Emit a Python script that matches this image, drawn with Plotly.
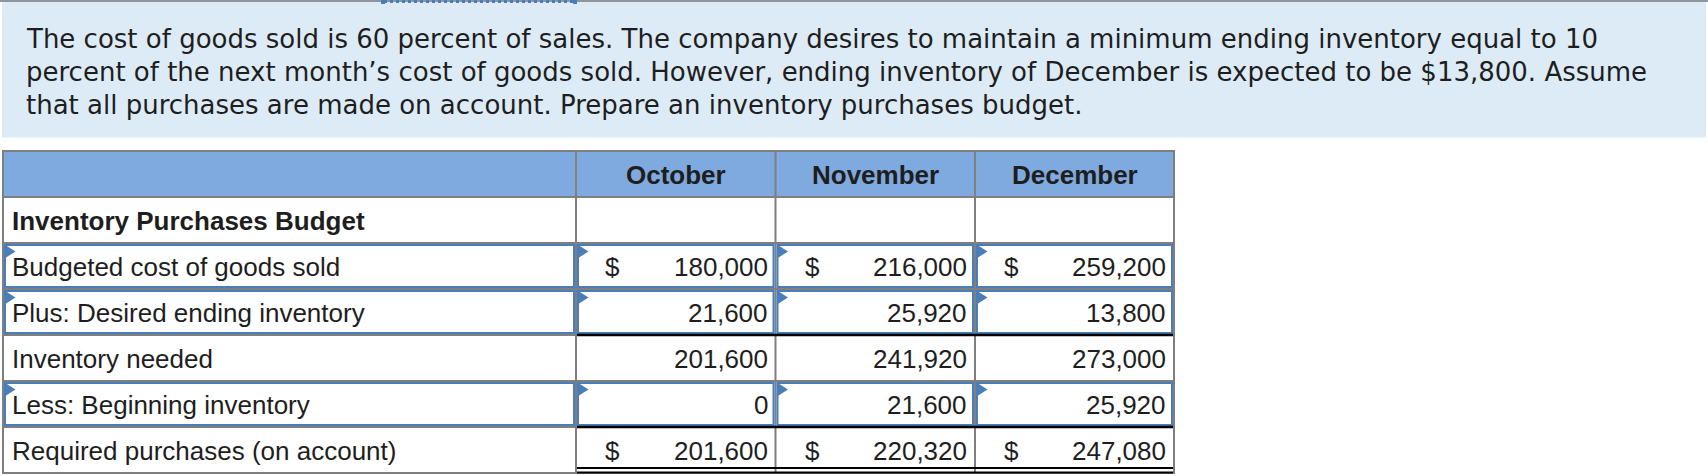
import plotly.graph_objects as go

# intro text above the table
intro_lines = [
    "The cost of goods sold is 60 percent of sales. The company desires to maintain a minimum ending inventory equal to 10",
    "percent of the next month\u2019s cost of goods sold. However, ending inventory of December is expected to be $13,800. Assume",
    "that all purchases are made on account. Prepare an inventory purchases budget.",
]

# budget table
months = ["October", "November", "December"]
table_title = "Inventory Purchases Budget"
row_labels = [
    "Budgeted cost of goods sold",
    "Plus: Desired ending inventory",
    "Inventory needed",
    "Less: Beginning inventory",
    "Required purchases (on account)",
]
cogs = [180000, 216000, 259200]
desired_ending = [21600, 25920, 13800]
inventory_needed = [201600, 241920, 273000]
beginning_inventory = [0, 21600, 25920]
required_purchases = [201600, 220320, 247080]

row_values = [cogs, desired_ending, inventory_needed, beginning_inventory, required_purchases]
dollar_rows = [0, 4]      # rows shown with a $ sign
input_rows = [0, 1, 3]    # rows with blue input cells
single_line_below = [1, 3]

W, H = 1708, 476
GRID = "#7f7f7f"
BLUE = "#4a7ebb"
HEADER_FILL = "#7faadf"
BOX_FILL = "#ddebf7"
TEXT = "#1e1e1e"

col_edges = [3, 576, 775.5, 975, 1174]
row_top = 151
row_h = 46
n_rows = 2 + len(row_labels)
row_edges = [row_top + i * row_h for i in range(n_rows + 1)]

shapes = []
annotations = []


def line(x0, y0, x1, y1, color, width=2, dash="solid"):
    shapes.append(dict(type="line", x0=x0, y0=y0, x1=x1, y1=y1,
                       line=dict(color=color, width=width, dash=dash), layer="above"))


def rect(x0, y0, x1, y1, fill=None, color=None, width=0):
    shapes.append(dict(type="rect", x0=x0, y0=y0, x1=x1, y1=y1,
                       fillcolor=fill if fill else "rgba(0,0,0,0)",
                       line=dict(color=color if color else "rgba(0,0,0,0)", width=width),
                       layer="above"))


def text(x, y, s, size=26, bold=False, anchor="left", family="Liberation Sans, Arial, sans-serif"):
    annotations.append(dict(x=x, y=y, xref="x", yref="y", text=f"<b>{s}</b>" if bold else s,
                            showarrow=False, xanchor=anchor, yanchor="middle",
                            font=dict(family=family, size=size, color=TEXT)))


def marker(x, y):
    shapes.append(dict(type="path", path=f"M {x},{y} L {x + 11},{y + 7} L {x},{y + 14} Z",
                       fillcolor=BLUE, line=dict(width=0), layer="above"))


# intro box
rect(2, 2, 1706, 137.5, fill=BOX_FILL)
line(0, 1, W, 1, "#8f959c", width=2)
line(384, 1.5, 574, 1.5, BLUE, width=3, dash="dot")
rect(381, 0, 385, 4, fill=BLUE)
rect(573, 0, 577, 4, fill=BLUE)
for i, s in enumerate(intro_lines):
    text(24, 39 + i * 33, s, size=26, family="DejaVu Sans, Verdana, sans-serif")

# header row
rect(col_edges[0], row_edges[0], col_edges[-1], row_edges[1], fill=HEADER_FILL)
for j, m in enumerate(months):
    text((col_edges[j + 1] + col_edges[j + 2]) / 2, (row_edges[0] + row_edges[1]) / 2 + 1, m,
         bold=True, anchor="center")

text(10, (row_edges[1] + row_edges[2]) / 2 + 1, table_title, bold=True)

# grid
for y in row_edges:
    line(col_edges[0] - 1, y, col_edges[-1] + 1, y, GRID)
for x in col_edges:
    line(x, row_edges[0], x, row_edges[-1], GRID)

# body rows
for i, label in enumerate(row_labels):
    y0, y1 = row_edges[i + 2], row_edges[i + 3]
    yc = (y0 + y1) / 2 + 1
    if i in input_rows:
        for j in range(len(col_edges) - 1):
            rect(col_edges[j] + 2, y0 + 2, col_edges[j + 1] - 2, y1 - 2, color=BLUE, width=2)
            marker(col_edges[j] + 1.5, y0 + 1.5)
    text(10, yc, label)
    for j, v in enumerate(row_values[i]):
        cx0, cx1 = col_edges[j + 1], col_edges[j + 2]
        text(cx1 - 6, yc, f"{v:,}", anchor="right")
        if i in dollar_rows:
            text(cx0 + 27, yc, "$")
    if i in single_line_below:
        line(col_edges[1] + 1, y1, col_edges[-1] - 1, y1, "#000000", width=2.5)

# double underline under the total row
yb = row_edges[-1]
line(col_edges[1] + 1, yb - 5, col_edges[-1] - 1, yb - 5, "#000000", width=2)
line(col_edges[1] + 1, yb - 0.5, col_edges[-1] - 1, yb - 0.5, "#000000", width=2)

fig = go.Figure()
fig.update_layout(
    width=W,
    height=H,
    margin=dict(l=0, r=0, t=0, b=0),
    paper_bgcolor="white",
    plot_bgcolor="white",
    xaxis=dict(range=[0, W], visible=False, fixedrange=True),
    yaxis=dict(range=[H, 0], visible=False, fixedrange=True),
    shapes=shapes,
    annotations=annotations,
    showlegend=False,
)
# drop the default page margin so the figure sits at the window's top-left corner
fig.write_html("out.html", config={"displayModeBar": False},
               post_script="document.body.style.margin = '0';")
